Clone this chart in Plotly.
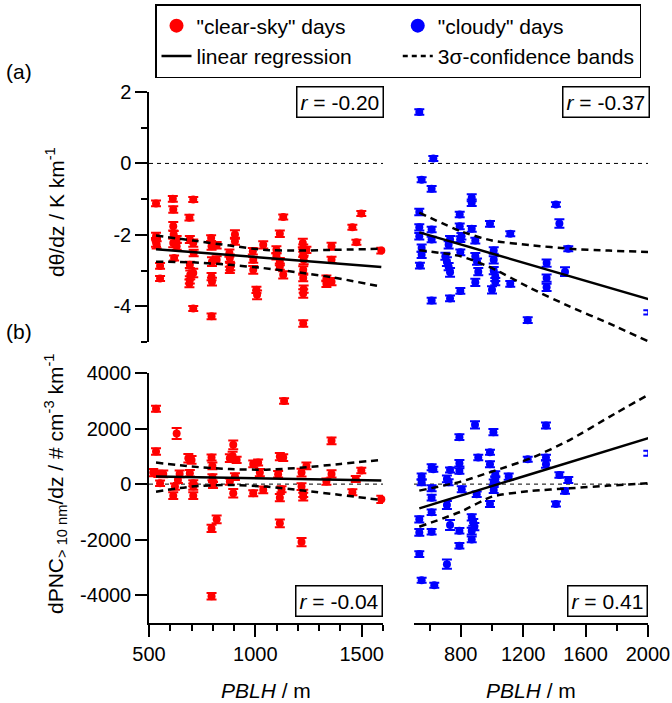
import plotly.graph_objects as go

# ---------------- data ----------------
# (a) temperature gradient, clear-sky days
TL_x = [533, 533, 533, 536, 552, 552,
        612, 614, 614, 616, 614, 618, 630, 630,
        690, 692, 692, 694, 692, 690, 708, 708, 710, 708, 708,
        792, 794, 796, 794, 796, 794, 818, 818,
        878, 880, 882, 880, 904, 904, 988, 990, 990, 1005, 1008, 1037,
        1099, 1099, 1115, 1115, 1115, 1131, 1131,
        1223, 1225, 1225, 1227, 1225, 1225, 1227, 1225, 1225, 1240,
        1334, 1334, 1358, 1358, 1358, 1456, 1475, 1498, 1592]
TL_y = [-1.12, -2.04, -2.21, -2.28, -2.87, -3.22,
        -0.99, -1.29, -1.76, -1.99, -2.23, -2.65, -2.13, -2.32,
        -1.52, -2.13, -2.84, -3.12, -3.26, -3.36, -1.01, -2.23, -2.51, -3.07, -4.06,
        -2.09, -2.32, -2.75, -3.17, -3.31, -4.28, -2.29, -2.70,
        -2.51, -2.65, -2.89, -2.98, -1.99, -2.18, -2.46, -2.70, -2.98, -3.54, -3.68, -2.28,
        -2.42, -2.60, -1.97, -2.75, -2.89, -1.50, -3.12,
        -2.23, -2.37, -2.51, -2.70, -2.98, -3.21, -3.52, -3.64, -4.48, -2.42,
        -3.22, -3.37, -2.32, -2.70, -3.31, -1.79, -2.21, -1.40, -2.44]
TL_err = [0.08, 0.10, 0.12, 0.10, 0.08, 0.07,
          0.08, 0.09, 0.12, 0.10, 0.12, 0.07, 0.10, 0.10,
          0.08, 0.10, 0.09, 0.12, 0.10, 0.11, 0.07, 0.10, 0.09, 0.12, 0.07,
          0.08, 0.10, 0.12, 0.10, 0.11, 0.08, 0.09, 0.10,
          0.10, 0.10, 0.10, 0.09, 0.12, 0.10, 0.09, 0.08, 0.11, 0.09, 0.12, 0.10,
          0.10, 0.09, 0.09, 0.10, 0.09, 0.07, 0.10,
          0.12, 0.10, 0.11, 0.12, 0.10, 0.09, 0.10, 0.12, 0.09, 0.09,
          0.08, 0.09, 0.10, 0.09, 0.10, 0.07, 0.07, 0.07, 0.08]

# (a) cloudy days
TR_x = [534, 624, 549, 613, 870, 870, 534, 793, 987, 1410, 1432, 534, 613, 793, 870, 804,
        534, 549, 549, 613, 722, 731, 797, 893, 1117, 1489, 1011, 538, 701, 711, 722, 731,
        797, 893, 904, 1011, 1011, 1021, 1021, 1000, 912, 893, 1117, 1350, 1350, 1350, 1468,
        797, 731, 613, 1229, 2002]
TR_y = [1.44, 0.14, -0.46, -0.71, -0.96, -1.10, -1.36, -1.43, -1.69, -1.15, -1.68, -1.79, -1.85, -1.76, -1.83, -2.04,
        -2.04, -2.37, -2.56, -2.13, -2.28, -2.12, -2.12, -2.16, -1.97, -2.39, -2.44, -2.86, -2.60, -2.75, -2.89, -3.05,
        -2.49, -2.60, -2.75, -2.70, -3.00, -3.17, -3.31, -3.54, -3.03, -3.33, -3.37, -2.79, -3.21, -3.47, -3.03,
        -3.57, -3.78, -3.84, -4.39, -4.17]
TR_err = [0.08, 0.07, 0.07, 0.08, 0.10, 0.09, 0.09, 0.08, 0.08, 0.06, 0.12, 0.09, 0.08, 0.08, 0.08, 0.09,
          0.09, 0.10, 0.09, 0.08, 0.10, 0.09, 0.08, 0.08, 0.07, 0.07, 0.09, 0.08, 0.10, 0.12, 0.10, 0.12,
          0.08, 0.09, 0.09, 0.10, 0.10, 0.12, 0.10, 0.10, 0.10, 0.10, 0.08, 0.10, 0.10, 0.10, 0.12,
          0.08, 0.08, 0.08, 0.08, 0.06]

# (b) particle number gradient, clear-sky days
BL_x = [533, 533, 520, 544, 552, 567,
        614, 622, 630, 644, 636,
        685, 700, 692, 708, 708, 708,
        794, 798, 798, 801, 794, 818, 794,
        880, 893, 896, 880, 896, 904, 912,
        990, 1013, 990, 1021, 1037,
        1107, 1115, 1131, 1115, 1115, 1135, 1123,
        1217, 1240, 1217, 1225, 1225, 1217,
        1358, 1358, 1334, 1456, 1472, 1498, 1592]
BL_y = [2713, 1173, 415, 367, 30, 367,
        -415, -90, 1823, 367, 150,
        932, 872, 390, 30, -415, -90,
        956, 655, 247, -30, -1594, -1269, -4036,
        932, 1016, 1413, 90, -330, 270, 872,
        728, 776, -330, 415, -210,
        355, 992, 956, -487, -1413, 2990, -186,
        415, 656, -90, -450, -330, -2087,
        1558, 367, 90, -295, 186, 487, -547]
BL_err = [110, 120, 130, 110, 100, 120,
          120, 110, 200, 120, 110,
          150, 140, 120, 110, 120, 110,
          110, 120, 110, 110, 130, 140, 120,
          140, 150, 160, 110, 150, 120, 110,
          120, 110, 110, 130, 120,
          120, 130, 120, 130, 140, 100, 110,
          140, 120, 120, 140, 130, 150,
          120, 130, 110, 110, 110, 100, 130]

# (b) cloudy days
BR_x = [891, 1009, 1346, 791, 987, 912, 1229, 1346, 1346, 613, 624, 731, 791, 791, 987,
        549, 549, 711, 722, 1021, 1021, 1011, 1107, 1432, 1489, 613, 806, 902, 1011, 1468,
        613, 711, 987, 1410, 534, 613, 870, 880, 887, 731, 791, 870, 534, 613, 870, 791,
        534, 711, 549, 630, 2002]
BR_y = [2135, 1871, 2111, 1691, 1149, 956, 896, 956, 716, 608, 535, 511, 752, 475, 716,
        270, 66, 186, 66, 355, 175, 66, 270, 330, 150, -150, -186, -367, -210, -246,
        -487, -752, -716, -716, -1269, -1016, -1197, -1377, -1534, -1474, -1678, -1690, -1738, -1714, -1990, -2219,
        -2520, -2881, -3459, -3640, 1113]
BR_err = [130, 110, 110, 100, 90, 100, 90, 100, 130, 110, 90, 90, 120, 100, 110,
          110, 110, 120, 110, 110, 110, 100, 110, 100, 110, 110, 110, 100, 110, 100,
          100, 140, 110, 90, 110, 100, 110, 120, 130, 180, 100, 120, 120, 100, 100, 100,
          100, 170, 90, 90, 90]

# regression lines and 3-sigma confidence bands
TL_fit_x = [533, 1592]
TL_fit_y = [-2.40, -2.90]
TL_band_x = [533, 708, 880, 1037, 1225, 1365, 1592]
TL_band_hi = [-2.02, -2.16, -2.30, -2.42, -2.44, -2.42, -2.39]
TL_band_lo = [-2.75, -2.77, -2.84, -2.93, -3.07, -3.19, -3.45]

TR_fit_x = [534, 2002]
TR_fit_y = [-1.93, -3.80]
TR_band_x = [534, 800, 1000, 1250, 1500, 1750, 2002]
TR_band_hi = [-1.38, -1.90, -2.16, -2.29, -2.39, -2.44, -2.48]
TR_band_lo = [-2.43, -2.60, -2.93, -3.50, -4.01, -4.48, -4.98]

BL_fit_x = [533, 1592]
BL_fit_y = [271, 127]
BL_band_x = [533, 700, 880, 1050, 1225, 1400, 1592]
BL_band_hi = [776, 632, 540, 520, 595, 728, 872]
BL_band_lo = [-271, -90, -30, -90, -234, -391, -571]

BR_fit_x = [534, 2002]
BR_fit_y = [-872, 1654]
BR_band_x = [534, 800, 1000, 1250, 1500, 1750, 2002]
BR_band_hi = [-234, 90, 451, 932, 1594, 2412, 3218]
BR_band_lo = [-1534, -992, -451, -246, -150, -54, 30]

r_values = ["-0.20", "-0.37", "-0.04", "0.41"]

# ---------------- style ----------------
FONT = "Liberation Sans, Arial, sans-serif"
RED = "#ff0000"
BLUE = "#0000ff"
W, H = 672, 703

def px(xp):
    return xp / W

def py(yp):
    return 1 - yp / H

fig = go.Figure()

panels = [
    ("x", "y", TL_x, TL_y, TL_err, RED, TL_fit_x, TL_fit_y, TL_band_x, TL_band_hi, TL_band_lo),
    ("x2", "y2", TR_x, TR_y, TR_err, BLUE, TR_fit_x, TR_fit_y, TR_band_x, TR_band_hi, TR_band_lo),
    ("x3", "y3", BL_x, BL_y, BL_err, RED, BL_fit_x, BL_fit_y, BL_band_x, BL_band_hi, BL_band_lo),
    ("x4", "y4", BR_x, BR_y, BR_err, BLUE, BR_fit_x, BR_fit_y, BR_band_x, BR_band_hi, BR_band_lo),
]

DASH = "7px,5px"
for xa, ya, xs, ys, es, col, fx, fy, bx, bh, bl in panels:
    fig.add_trace(go.Scatter(
        x=xs, y=ys, mode="markers", xaxis=xa, yaxis=ya, showlegend=False,
        marker=dict(color=col, size=8),
        error_y=dict(type="data", array=es, color=col, thickness=2, width=5),
        cliponaxis=False))
    for band in (bh, bl):
        fig.add_trace(go.Scatter(
            x=bx, y=band, mode="lines", xaxis=xa, yaxis=ya, showlegend=False,
            line=dict(color="black", width=2.5, dash=DASH, shape="spline", smoothing=0.6)))
    fig.add_trace(go.Scatter(
        x=fx, y=fy, mode="lines", xaxis=xa, yaxis=ya, showlegend=False,
        line=dict(color="black", width=2.5)))

# legend-only traces
fig.add_trace(go.Scatter(x=[None], y=[None], mode="markers", name='"clear-sky" days',
                         marker=dict(color=RED, size=14)))
fig.add_trace(go.Scatter(x=[None], y=[None], mode="markers", name='"cloudy" days',
                         marker=dict(color=BLUE, size=14)))
fig.add_trace(go.Scatter(x=[None], y=[None], mode="lines", name="linear regression",
                         line=dict(color="black", width=2.5)))
fig.add_trace(go.Scatter(x=[None], y=[None], mode="lines", name="3σ-confidence bands",
                         line=dict(color="black", width=2.5, dash="5px,4px")))

# zero reference lines
for xa, ya in (("x", "y"), ("x2", "y2"), ("x3", "y3"), ("x4", "y4")):
    fig.add_shape(type="line", xref=f"{xa} domain", yref=ya, x0=0, x1=1, y0=0, y1=0,
                  line=dict(color="black", width=1, dash="4px,4px"), layer="below")

LX = [px(149), px(383)]
RX = [px(414), px(648)]
TY = [py(342), py(92)]
BY = [py(623), py(373)]

tickfont = dict(family=FONT, size=20, color="black")
hidden = dict(visible=False)
common_line = dict(showline=True, linecolor="black", linewidth=1.5, showgrid=False,
                   zeroline=False, ticks="outside", tickcolor="black", tickwidth=1.5,
                   ticklen=12, tickfont=tickfont, automargin=False)

fig.update_layout(
    width=W, height=H,
    margin=dict(l=0, r=0, t=0, b=0, pad=0, autoexpand=False),
    paper_bgcolor="white", plot_bgcolor="white",
    font=dict(family=FONT, size=21, color="black"),
    xaxis=dict(domain=LX, range=[500, 1600], anchor="y", **hidden),
    yaxis=dict(domain=TY, range=[-5, 2], anchor="x", tickvals=[2, 0, -2, -4],
               ticktext=["2", "0", "-2", "-4"],
               minor=dict(tickvals=[1, -1, -3, -5], ticklen=6, ticks="outside",
                          tickcolor="black", tickwidth=1.5),
               **common_line),
    xaxis2=dict(domain=RX, range=[500, 2000], anchor="y2", **hidden),
    yaxis2=dict(domain=TY, range=[-5, 2], anchor="x2", **hidden),
    xaxis3=dict(domain=LX, range=[500, 1600], anchor="y3", tickvals=[500, 1000, 1500],
                minor=dict(dtick=100, tick0=500, ticklen=6, ticks="outside",
                           tickcolor="black", tickwidth=1.5),
                **common_line),
    yaxis3=dict(domain=BY, range=[-5000, 4000], anchor="x3",
                tickvals=[4000, 2000, 0, -2000, -4000],
                ticktext=["4000", "2000", "0", "-2000", "-4000"],
                **common_line),
    xaxis4=dict(domain=RX, range=[500, 2000], anchor="y4", tickvals=[800, 1200, 1600, 2000],
                minor=dict(tickvals=[600, 1000, 1400, 1800], ticklen=6, ticks="outside",
                           tickcolor="black", tickwidth=1.5),
                **common_line),
    yaxis4=dict(domain=BY, range=[-5000, 4000], anchor="x4", **hidden),
    legend=dict(orientation="h", x=px(155), y=py(4), xanchor="left", yanchor="top",
                bordercolor="black", borderwidth=1.5, bgcolor="white",
                font=dict(family=FONT, size=21, color="black"),
                itemwidth=30, tracegroupgap=0, traceorder="normal"),
)

anns = []
# r boxes
box_pos = [(px(384), py(86), "top"), (px(650), py(86), "top"),
           (px(383), py(617), "bottom"), (px(648), py(617), "bottom")]
for (bxp, byp, ya), rv in zip(box_pos, r_values):
    anns.append(dict(xref="paper", yref="paper", x=bxp, y=byp, xanchor="right", yanchor=ya,
                     text=f"<i>r</i> = {rv}", showarrow=False,
                     font=dict(family=FONT, size=21, color="black"),
                     bgcolor="white", bordercolor="black", borderwidth=1.5, borderpad=3))
# panel labels
anns.append(dict(xref="paper", yref="paper", x=px(4), y=py(72), xanchor="left", yanchor="middle",
                 text="(a)", showarrow=False, font=dict(family=FONT, size=21)))
anns.append(dict(xref="paper", yref="paper", x=px(4), y=py(331), xanchor="left", yanchor="middle",
                 text="(b)", showarrow=False, font=dict(family=FONT, size=21)))
# axis titles
anns.append(dict(xref="paper", yref="paper", x=px(55), y=py(212), xanchor="center", yanchor="middle",
                 text="dθ/dz / K km<sup>-1</sup>", textangle=-90, showarrow=False,
                 font=dict(family=FONT, size=21)))
anns.append(dict(xref="paper", yref="paper", x=px(55), y=py(484), xanchor="center", yanchor="middle",
                 text="dPNC<sub>> 10 nm</sub>/dz / # cm<sup>-3</sup> km<sup>-1</sup>", textangle=-90,
                 showarrow=False, font=dict(family=FONT, size=21)))
anns.append(dict(xref="paper", yref="paper", x=px(266), y=py(690), xanchor="center", yanchor="middle",
                 text="<i>PBLH</i> / m", showarrow=False, font=dict(family=FONT, size=21)))
anns.append(dict(xref="paper", yref="paper", x=px(531), y=py(690), xanchor="center", yanchor="middle",
                 text="<i>PBLH</i> / m", showarrow=False, font=dict(family=FONT, size=21)))
fig.update_layout(annotations=anns)

fig.write_html("out.html", config={"displayModeBar": False},
               post_script="document.body.style.margin='0px';")
